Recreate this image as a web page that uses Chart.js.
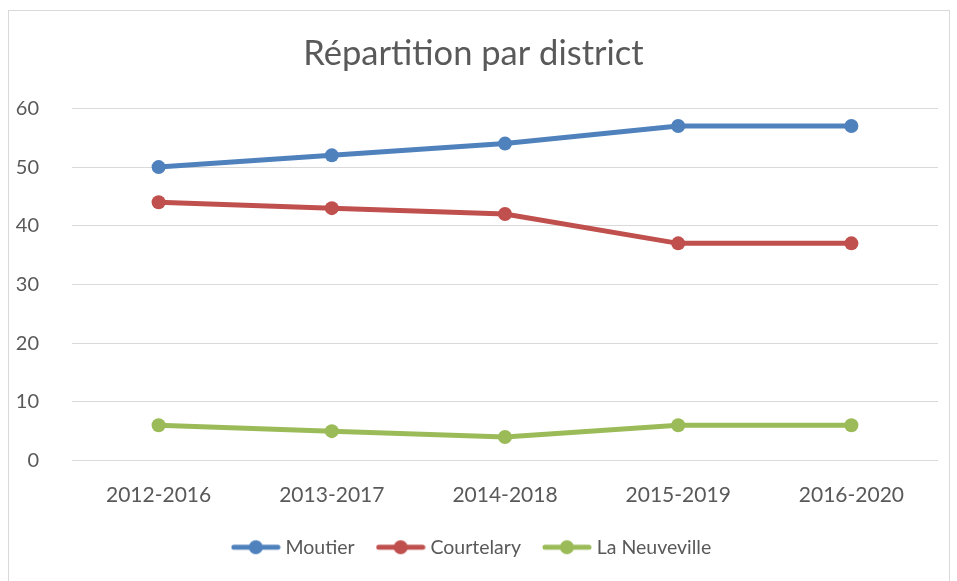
<!DOCTYPE html>
<html>
<head>
<meta charset="utf-8">
<script src="https://cdn.jsdelivr.net/npm/chart.js@4"></script>
<style>
  body { margin: 0; background: #fff; }
  #box {
    position: absolute; left: 8px; top: 10px;
    width: 942px; height: 572px;
    border: 1px solid #d9d9d9; box-sizing: border-box;
  }
  #box canvas { display: block; }
</style>
</head>
<body>
<div id="box"><canvas id="chartCanvas" width="940" height="570"></canvas></div>
<script>
const periods = ["2012-2016", "2013-2017", "2014-2018", "2015-2019", "2016-2020"];
const moutier = [50, 52, 54, 57, 57];
const courtelary = [44, 43, 42, 37, 37];
const laNeuveville = [6, 5, 4, 6, 6];
const seriesNames = ["Moutier", "Courtelary", "La Neuveville"];
const seriesColors = ["#4f81bd", "#c0504d", "#9bbb59"];

const textColor = "#595959";
const fontFamily = "Lato, 'Open Sans', sans-serif";

// legend marker: short line with a dot in the middle
const legendMarker = (color) => {
  const c = document.createElement("canvas");
  c.width = 50;
  c.height = 16;
  const ctx = c.getContext("2d");
  ctx.strokeStyle = color;
  ctx.lineWidth = 5;
  ctx.lineCap = "round";
  ctx.beginPath();
  ctx.moveTo(3, 8);
  ctx.lineTo(47, 8);
  ctx.stroke();
  ctx.fillStyle = color;
  ctx.beginPath();
  ctx.arc(25, 8, 7, 0, Math.PI * 2);
  ctx.fill();
  return c;
};

const makeDataset = (label, data, color) => ({
  label: label,
  data: data,
  borderColor: color,
  backgroundColor: color,
  borderWidth: 5,
  pointRadius: 7,
  pointHoverRadius: 7,
  pointBorderWidth: 0,
  pointStyle: "circle",
  tension: 0,
  fill: false,
});

const datasets = [
  makeDataset(seriesNames[0], moutier, seriesColors[0]),
  makeDataset(seriesNames[1], courtelary, seriesColors[1]),
  makeDataset(seriesNames[2], laNeuveville, seriesColors[2]),
];
const markers = seriesColors.map(legendMarker);

new Chart(document.getElementById("chartCanvas"), {
  type: "line",
  data: { labels: periods, datasets: datasets },
  options: {
    responsive: false,
    animation: false,
    layout: { padding: { left: 0, right: 11, top: 0, bottom: 14 } },
    plugins: {
      title: {
        display: true,
        text: "Répartition par district",
        color: textColor,
        font: { family: fontFamily, size: 34.5, weight: "normal" },
        padding: { top: 22, bottom: 34 },
      },
      legend: {
        position: "bottom",
        labels: {
          color: textColor,
          font: { family: fontFamily, size: 19.5 },
          usePointStyle: true,
          pointStyleWidth: 40,
          padding: 26,
          generateLabels: (chart) =>
            chart.data.datasets.map((ds, i) => ({
              text: ds.label,
              fontColor: textColor,
              pointStyle: markers[i],
              fillStyle: ds.borderColor,
              strokeStyle: ds.borderColor,
              lineWidth: 0,
              datasetIndex: i,
              hidden: false,
            })),
        },
      },
      tooltip: { enabled: false },
    },
    scales: {
      x: {
        offset: true,
        grid: { display: false, offset: true },
        border: { display: false },
        ticks: {
          color: textColor,
          font: { family: fontFamily, size: 21 },
          padding: 14,
          maxRotation: 0,
        },
        afterFit: (s) => { s.height = 51; },
      },
      y: {
        min: 0,
        max: 60,
        grid: { color: "#d9d9d9", lineWidth: 1, drawTicks: false },
        border: { display: false },
        ticks: {
          stepSize: 10,
          color: textColor,
          font: { family: fontFamily, size: 20 },
          padding: 33,
        },
        afterFit: (s) => { s.width = 63; },
      },
    },
  },
});
</script>
</body>
</html>
